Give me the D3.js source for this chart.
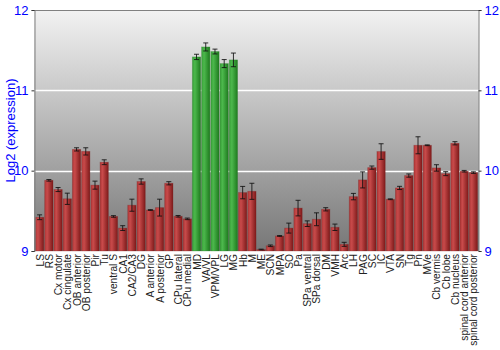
<!DOCTYPE html>
<html>
<head>
<meta charset="utf-8">
<script src="https://cdn.jsdelivr.net/npm/d3@7"></script>
<style>
  body { margin: 0; background: #fff; }
  text { font-family: "Liberation Sans", Arial, sans-serif; }
</style>
</head>
<body>
<script>
// data
var regions = ["LS", "RS", "Cx motor", "Cx cingulate", "OB anterior", "OB posterior", "Pir", "Tu",
  "ventral S", "CA1", "CA2/CA3", "DG", "A anterior", "A posterior", "GP", "CPu lateral", "CPu medial",
  "MD", "VA/VL", "VPM/VPL", "LG", "MG", "Hb", "M", "ME", "SCN", "MPA", "SO", "Pa", "SPa ventral",
  "SPa dorsal", "DM", "VMH", "Arc", "LH", "PAG", "SC", "IC", "VTA", "SN", "Tg", "Pn", "MVe",
  "Cb vermis", "Cb lobe", "Cb nucleus", "spinal cord anterior", "spinal cord posterior"];
var means = [9.42, 9.88, 9.765, 9.65, 10.265, 10.24, 9.82, 10.105,
  9.43, 9.285, 9.57, 9.865, 9.51, 9.54, 9.843, 9.432, 9.40,
  11.416, 11.54, 11.483, 11.333, 11.379, 9.727, 9.743, 9.018, 9.065,
  9.187, 9.285, 9.534, 9.34, 9.395, 9.519, 9.295, 9.083, 9.677,
  9.885, 10.038, 10.238, 9.644, 9.785, 9.939, 10.316, 10.316,
  10.034, 9.963, 10.341, 9.993, 9.976];
var errors = [0.03, 0.01, 0.025, 0.07, 0.02, 0.045, 0.05, 0.03,
  0.01, 0.03, 0.075, 0.033, 0.005, 0.105, 0.02, 0.01, 0.01,
  0.033, 0.05, 0.03, 0.05, 0.085, 0.077, 0.1, 0.005, 0.01,
  0.005, 0.062, 0.097, 0.035, 0.08, 0.02, 0.04, 0.025, 0.04,
  0.1, 0.02, 0.097, 0.005, 0.02, 0.02, 0.106, 0.005,
  0.04, 0.025, 0.02, 0.01, 0.01];
var highlighted = ["MD", "VA/VL", "VPM/VPL", "LG", "MG"];
var yTicks = [9, 10, 11, 12];

// svg container
var width = 500;
var height = 350;
var margin = { top: 10, right: 21, bottom: 99, left: 34 };
var chartWidth = width - margin.left - margin.right;
var chartHeight = height - margin.top - margin.bottom;

var svg = d3.select("body").append("svg")
    .attr("width", width)
    .attr("height", height);

var defs = svg.append("defs");

var bg = defs.append("linearGradient")
    .attr("id", "bg").attr("x1", 0).attr("y1", 0).attr("x2", 0).attr("y2", 1);
bg.append("stop").attr("offset", 0).attr("stop-color", "#f2f2f2");
bg.append("stop").attr("offset", 1).attr("stop-color", "#777777");

function barGradient(id, light, mid, dark) {
  var g = defs.append("linearGradient")
      .attr("id", id).attr("x1", 0).attr("y1", 0).attr("x2", 1).attr("y2", 0);
  g.append("stop").attr("offset", 0).attr("stop-color", mid);
  g.append("stop").attr("offset", 0.3).attr("stop-color", light);
  g.append("stop").attr("offset", 1).attr("stop-color", dark);
}
barGradient("red", "#c84a4a", "#b03838", "#7e1a1a");
barGradient("green", "#4cb84c", "#38a038", "#1e7a1e");

var chartGroup = svg.append("g")
    .attr("transform", `translate(${margin.left}, ${margin.top})`);

// scales
var xScale = d3.scaleBand()
    .domain(regions)
    .range([1, chartWidth - 1])
    .paddingInner(0.1)
    .paddingOuter(0.05);

var yScale = d3.scaleLinear()
    .domain([9, 12])
    .range([chartHeight, 0]);

// background
chartGroup.append("rect")
    .attr("width", chartWidth)
    .attr("height", chartHeight)
    .attr("fill", "url(#bg)");

// grid lines
chartGroup.selectAll(".grid")
    .data([10, 11])
    .enter()
    .append("line")
    .attr("x1", 0)
    .attr("x2", chartWidth)
    .attr("y1", d => Math.round(yScale(d)) + 0.5)
    .attr("y2", d => Math.round(yScale(d)) + 0.5)
    .attr("stroke", "#fff")
    .attr("stroke-width", 1.3);

// bars
chartGroup.selectAll(".bar")
    .data(means)
    .enter()
    .append("rect")
    .attr("x", (d, i) => xScale(regions[i]))
    .attr("y", d => yScale(d))
    .attr("width", xScale.bandwidth())
    .attr("height", d => chartHeight - yScale(d))
    .attr("fill", (d, i) => highlighted.includes(regions[i]) ? "url(#green)" : "url(#red)")
    .attr("stroke", (d, i) => highlighted.includes(regions[i]) ? "#2a7a2a" : "#7a2020")
    .attr("stroke-opacity", 0.35)
    .attr("stroke-width", 0.8);

// error bars
var errGroup = chartGroup.append("g")
    .attr("stroke", "#111")
    .attr("stroke-opacity", 0.85)
    .attr("stroke-width", 1);

means.forEach(function (d, i) {
  var cx = xScale(regions[i]) + xScale.bandwidth() / 2;
  var y1 = yScale(d - errors[i]);
  var y2 = yScale(d + errors[i]);
  errGroup.append("line").attr("x1", cx).attr("x2", cx).attr("y1", y1).attr("y2", y2);
  errGroup.append("line").attr("x1", cx - 2.5).attr("x2", cx + 2.5).attr("y1", y1).attr("y2", y1);
  errGroup.append("line").attr("x1", cx - 2.5).attr("x2", cx + 2.5).attr("y1", y2).attr("y2", y2);
});

// frame: top
chartGroup.append("line")
    .attr("x1", 0).attr("x2", chartWidth).attr("y1", 0.5).attr("y2", 0.5)
    .attr("stroke", "#808080");

// axes
var yAxisLeft = d3.axisLeft(yScale).tickValues(yTicks).tickFormat(d3.format("d")).tickSize(3).tickPadding(3);
var yAxisRight = d3.axisRight(yScale).tickValues(yTicks).tickFormat(d3.format("d")).tickSize(3).tickPadding(3);

function styleAxis(g) {
  g.select(".domain").attr("stroke", "#808080");
  g.selectAll(".tick line").attr("stroke", "#333");
  g.selectAll(".tick text")
      .attr("fill", "#0000ff")
      .style("font-size", "13px")
      .style("font-family", "'Liberation Sans', Arial, sans-serif");
}

chartGroup.append("g")
    .attr("transform", "translate(0.5, 0)")
    .call(yAxisLeft)
    .call(styleAxis);

chartGroup.append("g")
    .attr("transform", `translate(${chartWidth - 0.5}, 0)`)
    .call(yAxisRight)
    .call(styleAxis);

// x labels
chartGroup.selectAll(".xlabel")
    .data(regions)
    .enter()
    .append("text")
    .attr("transform", d => `translate(${xScale(d) + xScale.bandwidth() / 2 + 4}, ${chartHeight + 3}) rotate(-90)`)
    .attr("text-anchor", "end")
    .attr("fill", "#222")
    .style("font-size", "10.2px")
    .text(d => d);

// y title
svg.append("text")
    .attr("transform", `translate(15, ${margin.top + chartHeight / 2}) rotate(-90)`)
    .attr("text-anchor", "middle")
    .attr("fill", "#0000ff")
    .style("font-size", "13px")
    .text("Log2 (expression)");
</script>
</body>
</html>
